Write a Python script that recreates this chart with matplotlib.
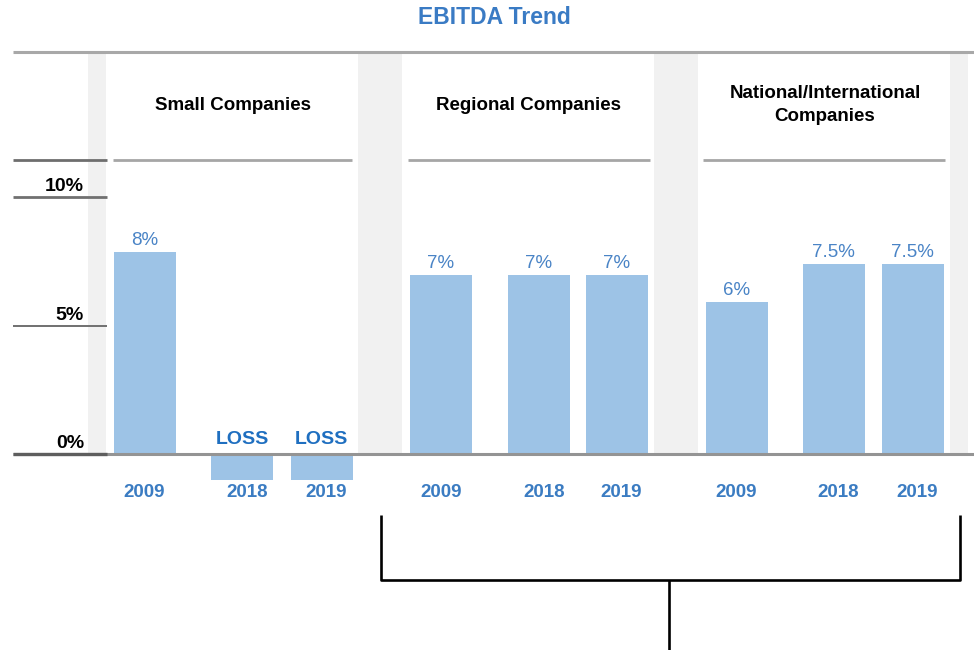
"""
EBITDA trend by company size, drawn as grouped bars with header panels.
"""

import matplotlib
matplotlib.use("Agg")
import matplotlib.pyplot as plt

plt.rcParams["font.family"] = ["Liberation Sans", "DejaVu Sans"]

# ---- data ----
groups = ["Small Companies", "Regional Companies", "National/International\nCompanies"]
years = ["2009", "2018", "2019"]
ebitda = [
    [7.85, -1.0, -1.0],
    [6.95, 6.95, 6.95],
    [5.9, 7.4, 7.4],
]
bar_labels = [
    ["8%", "LOSS", "LOSS"],
    ["7%", "7%", "7%"],
    ["6%", "7.5%", "7.5%"],
]
y_ticks = [0, 5, 10]
y_tick_labels = ["0%", "5%", "10%"]

# ---- layout (pixel positions on a 974x650 canvas) ----
W, H = 974, 650
ZERO_PX, PX_PER_PCT = 454, 25.7
bar_x = [[144.5, 242, 321.5], [441, 539, 616.5], [736.5, 833.5, 912.5]]
year_x = [[144, 247, 326], [441, 544, 621], [736, 838, 917]]
group_x = [233, 529, 825]
bands = [(88, 106), (358, 402), (654, 698), (950, 968)]
BAR_W = 62

BAR_COLOR = "#9dc3e6"
TITLE_BLUE = "#3a7bc4"
LABEL_BLUE = "#4a84c6"
YEAR_BLUE = "#3b7cc2"
LOSS_BLUE = "#1f6fc0"

fig = plt.figure(figsize=(W / 100, H / 100), dpi=100)

# background axes in pixel coordinates
bg = fig.add_axes([0, 0, 1, 1])
bg.set_xlim(0, W)
bg.set_ylim(H, 0)
bg.axis("off")

for x0, x1 in bands:
    bg.add_patch(plt.Rectangle((x0, 52), x1 - x0, ZERO_PX - 52, color="#f1f1f1", lw=0, zorder=0))

bg.plot([13, W], [52, 52], color="#a8a8a8", lw=2.2, solid_capstyle="butt")
bg.plot([13, 107], [160, 160], color="#6e6e6e", lw=2.0, solid_capstyle="butt")
for x0, x1 in [(113, 352), (408, 650), (703, 945)]:
    bg.plot([x0, x1], [160, 160], color="#a6a6a6", lw=2.0, solid_capstyle="butt")

bg.text(494, 17, "EBITDA Trend", ha="center", va="center", fontsize=16.5,
        fontweight="bold", color=TITLE_BLUE)
for gx, name in zip(group_x, groups):
    bg.text(gx, 105, name, ha="center", va="center", fontsize=13.5,
            fontweight="bold", color="black", linespacing=1.45)

# bracket below
bk = dict(color="black", lw=1.9, solid_capstyle="butt")
bg.plot([381, 381, 960, 960], [515, 580, 580, 515], **bk)
bg.plot([669, 669], [580, 650], **bk)

# data axes: x in pixels, y in percent
ax = fig.add_axes([0, 0, 1, 1], zorder=2)
ax.patch.set_visible(False)
ax.axis("off")
ax.set_xlim(0, W)
ax.set_ylim((ZERO_PX - H) / PX_PER_PCT, ZERO_PX / PX_PER_PCT)

for g in range(len(groups)):
    ax.bar(bar_x[g], ebitda[g], width=BAR_W, color=BAR_COLOR, zorder=2)
    for i, (v, lab) in enumerate(zip(ebitda[g], bar_labels[g])):
        if v < 0:
            ax.text(bar_x[g][i], 0.22, lab, ha="center", va="bottom", fontsize=14,
                    fontweight="bold", color=LOSS_BLUE)
        else:
            ax.text(bar_x[g][i], v + 0.12, lab, ha="center", va="bottom", fontsize=13.5,
                    color=LABEL_BLUE)
        ax.text(year_x[g][i], -1.5, years[i], ha="center", va="center", fontsize=13.5,
                fontweight="bold", color=YEAR_BLUE)

# y gridline stubs and labels
for t, lab in zip(y_ticks, y_tick_labels):
    if t == 0:
        ax.plot([13, W], [0, 0], color="#949494", lw=2.2, zorder=3, solid_capstyle="butt")
        ax.plot([13, 107], [0, 0], color="#5e5e5e", lw=2.4, zorder=3, solid_capstyle="butt")
    else:
        ax.plot([13, 107], [t, t], color="#707070", lw=2.0 if t == 10 else 1.4,
                zorder=3, solid_capstyle="butt")
    ax.text(84, t + 0.06, lab, ha="right", va="bottom", fontsize=14,
            fontweight="bold", color="black")

fig.savefig("out.png", dpi=100)
